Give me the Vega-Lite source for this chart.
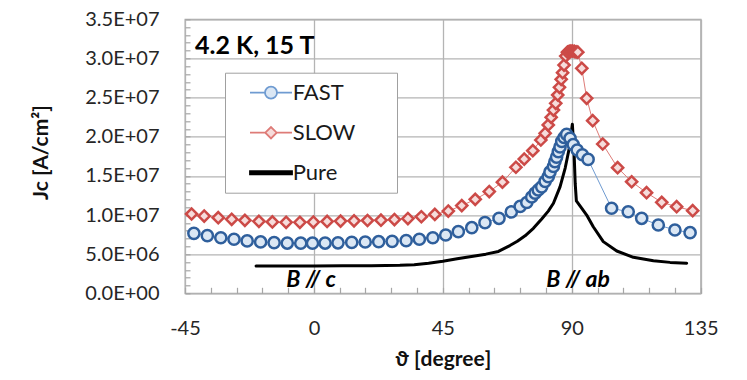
{
  "$schema": "https://vega.github.io/schema/vega-lite/v6.json",
  "width": 515.7,
  "height": 274,
  "autosize": {"type": "none"},
  "padding": {"left": 185, "top": 19.3, "right": 46.3, "bottom": 86.7},
  "background": "white",
  "config": {
    "font": "Lato",
    "view": {"stroke": "#a6a6a6", "strokeWidth": 1.3},
    "axis": {"domain": false, "gridColor": "#b4b4b4", "gridWidth": 1.3, "tickColor": "#a6a6a6", "tickWidth": 1.2, "labelColor": "#262626", "titleColor": "#111111", "labelFont": "Lato", "titleFont": "Lato", "labelOverlap": false, "labelFlush": false}
  },
  "data": {
    "values": [
      {"series": "FAST", "theta": -41.9, "jc": 7660000},
      {"series": "FAST", "theta": -37.2, "jc": 7360000},
      {"series": "FAST", "theta": -32.5, "jc": 7100000},
      {"series": "FAST", "theta": -27.9, "jc": 6900000},
      {"series": "FAST", "theta": -23.3, "jc": 6690000},
      {"series": "FAST", "theta": -18.6, "jc": 6560000},
      {"series": "FAST", "theta": -13.9, "jc": 6470000},
      {"series": "FAST", "theta": -9.3, "jc": 6420000},
      {"series": "FAST", "theta": -4.6, "jc": 6400000},
      {"series": "FAST", "theta": -0.5, "jc": 6400000},
      {"series": "FAST", "theta": 3.9, "jc": 6420000},
      {"series": "FAST", "theta": 8.4, "jc": 6450000},
      {"series": "FAST", "theta": 13.2, "jc": 6500000},
      {"series": "FAST", "theta": 17.9, "jc": 6550000},
      {"series": "FAST", "theta": 22.6, "jc": 6590000},
      {"series": "FAST", "theta": 27.3, "jc": 6640000},
      {"series": "FAST", "theta": 32.2, "jc": 6720000},
      {"series": "FAST", "theta": 36.8, "jc": 6900000},
      {"series": "FAST", "theta": 41.5, "jc": 7100000},
      {"series": "FAST", "theta": 46.0, "jc": 7450000},
      {"series": "FAST", "theta": 50.4, "jc": 7870000},
      {"series": "FAST", "theta": 55.1, "jc": 8380000},
      {"series": "FAST", "theta": 59.7, "jc": 9020000},
      {"series": "FAST", "theta": 64.6, "jc": 9580000},
      {"series": "FAST", "theta": 68.9, "jc": 10400000},
      {"series": "FAST", "theta": 72.0, "jc": 11100000},
      {"series": "FAST", "theta": 74.3, "jc": 11600000},
      {"series": "FAST", "theta": 76.0, "jc": 12300000},
      {"series": "FAST", "theta": 77.2, "jc": 12800000},
      {"series": "FAST", "theta": 78.3, "jc": 13200000},
      {"series": "FAST", "theta": 79.5, "jc": 13600000},
      {"series": "FAST", "theta": 80.7, "jc": 14300000},
      {"series": "FAST", "theta": 81.8, "jc": 14900000},
      {"series": "FAST", "theta": 82.4, "jc": 15500000},
      {"series": "FAST", "theta": 83.6, "jc": 16200000},
      {"series": "FAST", "theta": 84.1, "jc": 16800000},
      {"series": "FAST", "theta": 84.7, "jc": 17400000},
      {"series": "FAST", "theta": 85.3, "jc": 18100000},
      {"series": "FAST", "theta": 85.9, "jc": 18700000},
      {"series": "FAST", "theta": 86.5, "jc": 19400000},
      {"series": "FAST", "theta": 87.3, "jc": 19900000},
      {"series": "FAST", "theta": 88.2, "jc": 20300000},
      {"series": "FAST", "theta": 89.4, "jc": 19800000},
      {"series": "FAST", "theta": 90.5, "jc": 19000000},
      {"series": "FAST", "theta": 91.9, "jc": 18300000},
      {"series": "FAST", "theta": 93.7, "jc": 17700000},
      {"series": "FAST", "theta": 95.7, "jc": 17100000},
      {"series": "FAST", "theta": 103.9, "jc": 10860000},
      {"series": "FAST", "theta": 109.7, "jc": 10420000},
      {"series": "FAST", "theta": 114.4, "jc": 9580000},
      {"series": "FAST", "theta": 120.2, "jc": 8720000},
      {"series": "FAST", "theta": 126.0, "jc": 8090000},
      {"series": "FAST", "theta": 131.3, "jc": 7740000},
      {"series": "SLOW", "theta": -42.7, "jc": 10130000},
      {"series": "SLOW", "theta": -38.3, "jc": 9870000},
      {"series": "SLOW", "theta": -33.4, "jc": 9660000},
      {"series": "SLOW", "theta": -28.7, "jc": 9450000},
      {"series": "SLOW", "theta": -24.1, "jc": 9320000},
      {"series": "SLOW", "theta": -19.2, "jc": 9200000},
      {"series": "SLOW", "theta": -14.5, "jc": 9110000},
      {"series": "SLOW", "theta": -9.7, "jc": 9070000},
      {"series": "SLOW", "theta": -4.9, "jc": 9070000},
      {"series": "SLOW", "theta": -0.2, "jc": 9100000},
      {"series": "SLOW", "theta": 4.6, "jc": 9180000},
      {"series": "SLOW", "theta": 9.3, "jc": 9220000},
      {"series": "SLOW", "theta": 14.0, "jc": 9260000},
      {"series": "SLOW", "theta": 18.7, "jc": 9300000},
      {"series": "SLOW", "theta": 23.4, "jc": 9340000},
      {"series": "SLOW", "theta": 28.1, "jc": 9420000},
      {"series": "SLOW", "theta": 32.8, "jc": 9550000},
      {"series": "SLOW", "theta": 37.5, "jc": 9780000},
      {"series": "SLOW", "theta": 42.2, "jc": 10080000},
      {"series": "SLOW", "theta": 46.9, "jc": 10510000},
      {"series": "SLOW", "theta": 51.6, "jc": 11200000},
      {"series": "SLOW", "theta": 56.3, "jc": 12000000},
      {"series": "SLOW", "theta": 61.2, "jc": 13000000},
      {"series": "SLOW", "theta": 65.8, "jc": 14200000},
      {"series": "SLOW", "theta": 70.5, "jc": 16100000},
      {"series": "SLOW", "theta": 73.4, "jc": 17150000},
      {"series": "SLOW", "theta": 76.4, "jc": 18220000},
      {"series": "SLOW", "theta": 79.2, "jc": 19580000},
      {"series": "SLOW", "theta": 80.7, "jc": 20440000},
      {"series": "SLOW", "theta": 81.8, "jc": 21500000},
      {"series": "SLOW", "theta": 82.8, "jc": 22480000},
      {"series": "SLOW", "theta": 83.6, "jc": 23410000},
      {"series": "SLOW", "theta": 84.4, "jc": 24270000},
      {"series": "SLOW", "theta": 85.1, "jc": 25330000},
      {"series": "SLOW", "theta": 85.7, "jc": 26310000},
      {"series": "SLOW", "theta": 86.3, "jc": 27330000},
      {"series": "SLOW", "theta": 86.8, "jc": 28180000},
      {"series": "SLOW", "theta": 87.3, "jc": 29160000},
      {"series": "SLOW", "theta": 87.9, "jc": 30300000},
      {"series": "SLOW", "theta": 88.5, "jc": 30800000},
      {"series": "SLOW", "theta": 89.1, "jc": 30900000},
      {"series": "SLOW", "theta": 89.7, "jc": 30950000},
      {"series": "SLOW", "theta": 90.3, "jc": 30950000},
      {"series": "SLOW", "theta": 90.9, "jc": 30900000},
      {"series": "SLOW", "theta": 91.5, "jc": 30850000},
      {"series": "SLOW", "theta": 92.1, "jc": 30800000},
      {"series": "SLOW", "theta": 93.5, "jc": 28740000},
      {"series": "SLOW", "theta": 95.2, "jc": 24910000},
      {"series": "SLOW", "theta": 97.3, "jc": 22050000},
      {"series": "SLOW", "theta": 100.8, "jc": 19070000},
      {"series": "SLOW", "theta": 106.0, "jc": 16040000},
      {"series": "SLOW", "theta": 110.9, "jc": 14250000},
      {"series": "SLOW", "theta": 116.1, "jc": 12850000},
      {"series": "SLOW", "theta": 121.4, "jc": 11620000},
      {"series": "SLOW", "theta": 126.6, "jc": 11060000},
      {"series": "SLOW", "theta": 132.2, "jc": 10550000},
      {"series": "Pure", "theta": -20.2, "jc": 3500000},
      {"series": "Pure", "theta": -10, "jc": 3500000},
      {"series": "Pure", "theta": 0, "jc": 3500000},
      {"series": "Pure", "theta": 10, "jc": 3510000},
      {"series": "Pure", "theta": 20, "jc": 3530000},
      {"series": "Pure", "theta": 30, "jc": 3580000},
      {"series": "Pure", "theta": 35, "jc": 3650000},
      {"series": "Pure", "theta": 40, "jc": 3850000},
      {"series": "Pure", "theta": 45, "jc": 4100000},
      {"series": "Pure", "theta": 50, "jc": 4400000},
      {"series": "Pure", "theta": 55, "jc": 4700000},
      {"series": "Pure", "theta": 60, "jc": 5000000},
      {"series": "Pure", "theta": 64.4, "jc": 5350000},
      {"series": "Pure", "theta": 68.4, "jc": 6100000},
      {"series": "Pure", "theta": 71, "jc": 6650000},
      {"series": "Pure", "theta": 73.7, "jc": 7350000},
      {"series": "Pure", "theta": 76.6, "jc": 8300000},
      {"series": "Pure", "theta": 79.5, "jc": 9500000},
      {"series": "Pure", "theta": 81.8, "jc": 10500000},
      {"series": "Pure", "theta": 83.6, "jc": 11500000},
      {"series": "Pure", "theta": 85.9, "jc": 13600000},
      {"series": "Pure", "theta": 87.7, "jc": 16000000},
      {"series": "Pure", "theta": 89.1, "jc": 18500000},
      {"series": "Pure", "theta": 90.2, "jc": 21600000},
      {"series": "Pure", "theta": 90.8, "jc": 18000000},
      {"series": "Pure", "theta": 91.2, "jc": 14000000},
      {"series": "Pure", "theta": 91.6, "jc": 11800000},
      {"series": "Pure", "theta": 93.0, "jc": 11100000},
      {"series": "Pure", "theta": 95.2, "jc": 10000000},
      {"series": "Pure", "theta": 97.5, "jc": 8500000},
      {"series": "Pure", "theta": 101, "jc": 6600000},
      {"series": "Pure", "theta": 105.7, "jc": 5400000},
      {"series": "Pure", "theta": 111.5, "jc": 4600000},
      {"series": "Pure", "theta": 118.5, "jc": 4150000},
      {"series": "Pure", "theta": 124.3, "jc": 3950000},
      {"series": "Pure", "theta": 130.1, "jc": 3850000}
    ]
  },
  "encoding": {
    "x": {
      "field": "theta", "type": "quantitative",
      "scale": {"domain": [-45, 135], "nice": false, "zero": false},
      "axis": {
        "values": [-45, -36, -27, -18, -9, 0, 9, 18, 27, 36, 45, 54, 63, 72, 81, 90, 99, 108, 117, 126, 135],
        "labelExpr": "datum.value % 45 === 0 ? toString(datum.value) : ''",
        "grid": true,
        "gridOpacity": {"condition": {"test": "datum.value % 45 === 0", "value": 1}, "value": 0},
        "tickSize": -6,
        "labelFontSize": 20,
        "labelPadding": 31,
        "title": "ϑ [degree]",
        "titleFontSize": 21,
        "titleFontWeight": "bold",
        "titleX": 257.85,
        "titleY": 72,
        "titleAlign": "center",
        "titleBaseline": "alphabetic"
      }
    },
    "y": {
      "field": "jc", "type": "quantitative",
      "scale": {"domain": [0, 35000000], "nice": false, "zero": true},
      "axis": {
        "values": [0, 1000000, 2000000, 3000000, 4000000, 5000000, 6000000, 7000000, 8000000, 9000000, 10000000, 11000000, 12000000, 13000000, 14000000, 15000000, 16000000, 17000000, 18000000, 19000000, 20000000, 21000000, 22000000, 23000000, 24000000, 25000000, 26000000, 27000000, 28000000, 29000000, 30000000, 31000000, 32000000, 33000000, 34000000, 35000000],
        "labelExpr": "datum.value % 5000000 === 0 ? (datum.value === 0 ? '0.0E+00' : (datum.value < 10000000 ? format(datum.value / 1000000, '.1f') + 'E+06' : format(datum.value / 10000000, '.1f') + 'E+07')) : ''",
        "grid": true,
        "gridOpacity": {"condition": {"test": "datum.value % 5000000 === 0", "value": 1}, "value": 0},
        "tickSize": -5,
        "labelFontSize": 20,
        "labelPadding": 31,
        "title": "Jc [A/cm²]",
        "titleFontSize": 21,
        "titleFontWeight": "bold",
        "titleX": -144,
        "titleY": 132.7,
        "titleAngle": 270,
        "titleAlign": "center",
        "titleBaseline": "middle"
      }
    },
    "color": {
      "field": "series", "type": "nominal",
      "scale": {"domain": ["FAST", "SLOW", "Pure"], "range": ["#6f9bd1", "#de7b77", "#000000"]},
      "legend": {
        "orient": "none",
        "legendX": 40,
        "legendY": 53.4,
        "title": null,
        "padding": 9,
        "rowPadding": 18,
        "symbolSize": 144,
        "symbolOffset": 26,
        "labelOffset": 10.7,
        "labelFont": "Lato",
        "labelFontSize": 22,
        "labelColor": "#1a1a1a",
        "labelExpr": "datum.label + '\u2800\u2800'",
        "strokeColor": "#a0a0a0",
        "fillColor": "#ffffff",
        "encode": {
          "symbols": {
            "update": {
              "shape": {"signal": "datum.value === 'FAST' ? 'M-3.5,0L-1,0M1,0L3.5,0M1,0A1,1,0,1,1,-1,0A1,1,0,1,1,1,0' : (datum.value === 'SLOW' ? 'M-3.5,0L-0.95,0M0.95,0L3.5,0M-0.95,0L0,-0.95L0.95,0L0,0.95Z' : 'M-3.5,-0.26L3.5,-0.26L3.5,0.26L-3.5,0.26Z')"},
              "stroke": {"signal": "datum.value === 'FAST' ? '#2f5f9c' : (datum.value === 'SLOW' ? '#c94a47' : 'transparent')"},
              "fill": {"signal": "datum.value === 'FAST' ? '#dbe7f4' : (datum.value === 'SLOW' ? '#f6dcdb' : '#000000')"},
              "strokeWidth": {"value": 1.8},
              "size": {"value": 144},
              "opacity": {"value": 1},
              "fillOpacity": {"value": 1},
              "strokeOpacity": {"value": 1}
            }
          }
        }
      }
    }
  },
  "layer": [
    {
      "transform": [{"filter": "datum.series !== 'Pure'"}],
      "mark": {"type": "line", "strokeWidth": 1, "strokeJoin": "round"}
    },
    {
      "transform": [{"filter": "datum.series === 'Pure'"}],
      "mark": {"type": "line", "strokeWidth": 3, "strokeJoin": "round", "strokeCap": "round"}
    },
    {
      "transform": [{"filter": "datum.series !== 'Pure'"}],
      "mark": {"type": "point", "filled": false, "size": 125, "strokeWidth": 2.5, "opacity": 1},
      "encoding": {
        "shape": {
          "field": "series", "type": "nominal",
          "scale": {"domain": ["FAST", "SLOW"], "range": ["circle", "diamond"]},
          "legend": null
        },
        "stroke": {
          "field": "series", "type": "nominal",
          "scale": {"domain": ["FAST", "SLOW"], "range": ["#2f5f9c", "#cc4a47"]},
          "legend": null
        },
        "fill": {
          "field": "series", "type": "nominal",
          "scale": {"domain": ["FAST", "SLOW"], "range": ["#dbe7f4", "#f6dcdb"]},
          "legend": null
        }
      }
    },
    {
      "data": {"values": [{"theta": -41.5, "jc": 30600000, "label": "4.2 K, 15 T"}]},
      "mark": {"type": "text", "align": "left", "baseline": "alphabetic", "font": "Lato", "fontSize": 25, "fontWeight": "bold"},
      "encoding": {"text": {"field": "label"}, "color": {"value": "#000000"}}
    },
    {
      "data": {"values": [{"theta": -1, "jc": 800000, "label": "B // c"}, {"theta": 92.2, "jc": 800000, "label": "B // ab"}]},
      "mark": {"type": "text", "align": "center", "baseline": "alphabetic", "font": "Lato", "fontSize": 23, "fontWeight": "bold", "fontStyle": "italic"},
      "encoding": {"text": {"field": "label"}, "color": {"value": "#000000"}}
    }
  ]
}
